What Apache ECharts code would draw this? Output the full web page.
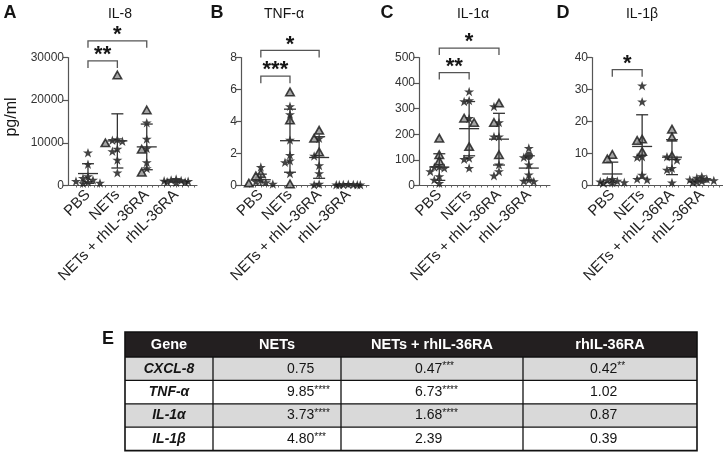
<!DOCTYPE html>
<html><head><meta charset="utf-8">
<script src="https://cdn.jsdelivr.net/npm/echarts@6/dist/echarts.min.js"></script>
<style>html,body{margin:0;padding:0;background:#fff}#c{width:723px;height:471px}</style>
</head><body><div id="c"></div>
<script>
// ---------- DATA ----------
const groups = ['PBS', 'NETs', 'NETs + rhIL-36RA', 'rhIL-36RA'];

// A: IL-8 (pg/ml)
const il8Stars = [[7700,5000,2100,1700,1300,1000,800,600,500],[10600,10400,10800,8600,8000,6000,3000],[14700,10900,8700,5400,4000],[1500,1300,1200,1100,1000,900,800,700]];
const il8Tris  = [[],[25900,10000],[17700,8500,3100],[]];
const il8Mean  = [2800,10450,9050,1100];
const il8Sd    = [2300,6350,5350,300];
const il8Sig   = [{a:0,b:1,y:29200,t:'**'},{a:0,b:2,y:33900,t:'*'}];

// B: TNF-α
const tnfStars = [[1.15,0.35,0.25,0.2,0.1],[4.95,4.45,2.85,1.9,1.55,1.45,0.75],[2.95,1.85,1.25,0.75,0.1,0.05],[0.08,0.07,0.06,0.05,0.05,0.04,0.04]];
const tnfTris  = [[0.75,0.6,0.15],[5.85,4.1,0.1],[3.45,2.95,2.1],[]];
const tnfMean  = [0.36,2.8,1.75,0.05];
const tnfSd    = [0.35,1.97,1.3,0.02];
const tnfSig   = [{a:0,b:1,y:6.83,t:'***'},{a:0,b:2,y:8.44,t:'*'}];

// C: IL-1α
const il1aStars = [[74,72,68,55,35,22,9],[367,332,328,263,107,103,68],[309,246,191,191,81,55,38],[146,110,81,42,22,18,16]];
const il1aTris  = [[185,120,96],[263,246,152],[322,246,120],[]];
const il1aCircs = [[],[],[],[116]];
const il1aMean  = [72,222,181,68];
const il1aSd    = [52,106,101,48];
const il1aSig   = [{a:0,b:1,y:441,t:'**'},{a:0,b:2,y:537,t:'*'}];

// D: IL-1β
const il1bStars = [[2.0,1.6,1.4,1.2,1.0,0.9,0.8],[31.2,26.2,9.0,8.8,3.3,2.0,1.8],[9.0,8.0,5.4,4.9,0.9],[2.8,2.4,2.0,1.8,1.6,1.4,1.2,1.0]];
const il1bTris  = [[9.7,8.3],[14.5,14.1,10.6],[17.6,15.1,9.3],[]];
const il1bMean  = [3.6,12.2,8.85,1.7];
const il1bSd    = [3.7,9.9,5.45,0.6];
const il1bSig   = [{a:0,b:1,y:36.2,t:'*'}];

// Y axis ticks
const yMax      = [30000, 8, 500, 40];
const yInterval = [10000, 2, 100, 10];
const panelTitles  = ['IL-8', 'TNF-α', 'IL-1α', 'IL-1β'];
const panelLetters = ['A', 'B', 'C', 'D'];

// E: qPCR fold change table
const tableHeader = ['Gene', 'NETs', 'NETs + rhIL-36RA', 'rhIL-36RA'];
const genes       = ['CXCL-8', 'TNF-α', 'IL-1α', 'IL-1β'];
const foldNETs    = ['0.75', '9.85', '3.73', '4.80'];
const sigNETs     = ['', '****', '****', '***'];
const foldNETsRA  = ['0.47', '6.73', '1.68', '2.39'];
const sigNETsRA   = ['***', '****', '****', ''];
const foldRA      = ['0.42', '1.02', '0.87', '0.39'];
const sigRA       = ['**', '', '', ''];

// ---------- LAYOUT ----------
const FONT = '"Liberation Sans", Arial, sans-serif';
const panels = [
  {stars: il8Stars, tris: il8Tris, circs: null, mean: il8Mean, sd: il8Sd, sig: il8Sig, left: 68, width: 129, titleX: 120, letterX: 10},
  {stars: tnfStars, tris: tnfTris, circs: null, mean: tnfMean, sd: tnfSd, sig: tnfSig, left: 241, width: 128, titleX: 284, letterX: 217},
  {stars: il1aStars, tris: il1aTris, circs: il1aCircs, mean: il1aMean, sd: il1aSd, sig: il1aSig, left: 419, width: 131, titleX: 473, letterX: 387},
  {stars: il1bStars, tris: il1bTris, circs: null, mean: il1bMean, sd: il1bSd, sig: il1bSig, left: 592, width: 131, titleX: 642, letterX: 563}
];
const GRID_TOP = 57.5, GRID_H = 128;
const XMIN = 0.32, XMAX = 4.71;
const STAR = 'path://M12,0 L14.9,8.6 L24,8.6 L16.6,14 L19.4,22.8 L12,17.4 L4.6,22.8 L7.4,14 L0,8.6 L9.1,8.6 Z';

function swarm(pts, pxPerY, pxPerX) {
  // compact beeswarm: returns x offsets (data units)
  const order = pts.map((p, i) => i).sort((i, j) => pts[j].v - pts[i].v);
  const placed = [];
  const cands = [0, -5, 5, -9, 9, -12, 12];
  const off = new Array(pts.length).fill(0);
  const D = 5;
  order.forEach(i => {
    const py = pts[i].v * pxPerY;
    let chosen = null, best = -1, bestC = 0;
    for (const c of cands) {
      let md = Infinity;
      placed.forEach(q => { md = Math.min(md, Math.hypot(q.x - c, q.y - py)); });
      if (md >= D) { chosen = c; break; }
      if (md > best) { best = md; bestC = c; }
    }
    if (chosen === null) chosen = bestC;
    placed.push({x: chosen, y: py});
    off[i] = chosen / pxPerX;
  });
  return off;
}

const grids = [], xAxes = [], yAxes = [], series = [], graphics = [];
panels.forEach((p, k) => {
  grids.push({left: p.left, top: GRID_TOP, width: p.width, height: GRID_H});
  const pxPerX = p.width / (XMAX - XMIN);
  const pxPerY = GRID_H / yMax[k];
  xAxes.push({
    type: 'value', gridIndex: k, min: XMIN, max: XMAX,
    splitLine: {show: false},
    axisLine: {show: true, onZero: false, lineStyle: {color: '#555', width: 1.2}},
    axisTick: {show: true, length: 2, customValues: [0.6,0.8,1,1.2,1.4,1.6,1.8,2,2.2,2.4,2.6,2.8,3,3.2,3.4,3.6,3.8,4,4.2,4.4,4.6], lineStyle: {color: '#666', width: 1}},
    axisLabel: {
      customValues: [1, 2, 3, 4], rotate: 45, margin: 7,
      fontSize: 15, color: '#222', fontFamily: FONT,
      formatter: v => (Number.isInteger(v) && v >= 1 && v <= 4) ? groups[v - 1] : ''
    }
  });
  yAxes.push({
    type: 'value', gridIndex: k, min: 0, max: yMax[k], interval: yInterval[k],
    splitLine: {show: false},
    axisLine: {show: true, lineStyle: {color: '#555', width: 1.2}},
    axisTick: {show: true, length: 5, lineStyle: {color: '#555', width: 1.2}},
    axisLabel: {fontSize: 12, color: '#333', margin: 4, fontFamily: FONT, formatter: v => String(v)}
  });

  // points
  const items = [];
  for (let g = 0; g < 4; g++) {
    const pts = [];
    p.stars[g].forEach(v => pts.push({v, s: 'star'}));
    p.tris[g].forEach(v => pts.push({v, s: 'tri'}));
    if (p.circs) p.circs[g].forEach(v => pts.push({v, s: 'circ'}));
    const off = swarm(pts, pxPerY, pxPerX);
    pts.forEach((pt, i) => {
      const it = {value: [g + 1 + off[i], pt.v]};
      if (pt.s === 'star') {
        it.symbol = STAR; it.symbolSize = [10, 9.5];
        it.itemStyle = {color: '#151515'};
      } else if (pt.s === 'tri') {
        it.symbol = 'triangle'; it.symbolSize = [8.5, 7.5];
        it.itemStyle = {color: '#8e8e8e', borderColor: '#151515', borderWidth: 1.6};
      } else {
        it.symbol = 'circle'; it.symbolSize = 8.5;
        it.itemStyle = {color: '#151515'};
      }
      items.push(it);
    });
  }
  series.push({type: 'scatter', xAxisIndex: k, yAxisIndex: k, data: items, z: 3, silent: true, animation: false});

  // mean ± SD
  series.push({
    type: 'custom', xAxisIndex: k, yAxisIndex: k, z: 4, silent: true, animation: false, clip: false,
    data: p.mean.map((m, g) => [g + 1, m, p.sd[g]]),
    encode: {x: 0, y: 1},
    renderItem: (params, api) => {
      const x = api.value(0), m = api.value(1), sd = api.value(2);
      const pm = api.coord([x, m]);
      const pt = api.coord([x, m + sd]);
      const pb = api.coord([x, Math.max(0, m - sd)]);
      const st = {stroke: '#333', lineWidth: 1.3, fill: null};
      return {type: 'group', children: [
        {type: 'line', shape: {x1: pm[0], y1: pt[1], x2: pm[0], y2: pb[1]}, style: st},
        {type: 'line', shape: {x1: pm[0] - 6, y1: pt[1], x2: pm[0] + 6, y2: pt[1]}, style: st},
        {type: 'line', shape: {x1: pm[0] - 6, y1: pb[1], x2: pm[0] + 6, y2: pb[1]}, style: st},
        {type: 'line', shape: {x1: pm[0] - 10, y1: pm[1], x2: pm[0] + 10, y2: pm[1]}, style: st}
      ]};
    }
  });

  // significance brackets
  series.push({
    type: 'custom', xAxisIndex: k, yAxisIndex: k, z: 5, silent: true, animation: false, clip: false,
    data: p.sig.map(s => [s.a + 1, s.b + 1, s.y]),
    encode: {x: [0, 1], y: 2},
    renderItem: (params, api) => {
      const s = p.sig[params.dataIndex];
      const p1 = api.coord([s.a + 1, s.y]);
      const p2 = api.coord([s.b + 1, s.y]);
      return {type: 'group', children: [
        {type: 'polyline', shape: {points: [[p1[0], p1[1] + 7], [p1[0], p1[1]], [p2[0], p2[1]], [p2[0], p2[1] + 7]]},
         style: {stroke: '#555', lineWidth: 1.3, fill: null}},
        {type: 'text', x: (p1[0] + p2[0]) / 2, y: p1[1] - 6,
         style: {text: s.t, fill: '#151515', font: 'bold 22px ' + FONT, align: 'center', verticalAlign: 'middle'}}
      ]};
    }
  });

  graphics.push({type: 'text', x: p.titleX, y: 14,
    style: {text: panelTitles[k], fill: '#151515', font: '14px ' + FONT, align: 'center', verticalAlign: 'middle'}});
  graphics.push({type: 'text', x: p.letterX, y: 13,
    style: {text: panelLetters[k], fill: '#151515', font: 'bold 18px ' + FONT, align: 'center', verticalAlign: 'middle'}});
});

graphics.push({type: 'text', x: 12, y: 117, rotation: Math.PI / 2,
  style: {text: 'pg/ml', fill: '#151515', font: '16px ' + FONT, align: 'center', verticalAlign: 'middle'}});

// ---------- TABLE (E) ----------
const colX = [125, 213, 341, 523, 697];
const valIndent = [74, 74, 67];
const T_TOP = 332, HEAD_H = 25, ROW_H = 23.4;
graphics.push({type: 'text', x: 108, y: T_TOP + 7,
  style: {text: 'E', fill: '#151515', font: 'bold 18px ' + FONT, align: 'center', verticalAlign: 'middle'}});
graphics.push({type: 'rect', shape: {x: colX[0], y: T_TOP, width: colX[4] - colX[0], height: HEAD_H}, style: {fill: '#231f20'}});
tableHeader.forEach((h, c) => {
  graphics.push({type: 'text', x: (colX[c] + colX[c + 1]) / 2, y: T_TOP + HEAD_H / 2,
    style: {text: h, fill: '#fff', font: 'bold 14.5px ' + FONT, align: 'center', verticalAlign: 'middle'}});
});
const valCols = [[foldNETs, sigNETs], [foldNETsRA, sigNETsRA], [foldRA, sigRA]];
genes.forEach((g, r) => {
  const y0 = T_TOP + HEAD_H + r * ROW_H;
  graphics.push({type: 'rect', shape: {x: colX[0], y: y0, width: colX[4] - colX[0], height: ROW_H},
    style: {fill: r % 2 === 0 ? '#d9d9d9' : '#ffffff'}});
  graphics.push({type: 'text', x: (colX[0] + colX[1]) / 2, y: y0 + ROW_H / 2,
    style: {text: g, fill: '#151515', font: 'italic bold 14px ' + FONT, align: 'center', verticalAlign: 'middle'}});
  valCols.forEach(([vals, sigs], c) => {
    graphics.push({type: 'text', x: colX[c + 1] + valIndent[c], y: y0 + ROW_H / 2,
      style: {
        text: '{v|' + vals[r] + '}' + (sigs[r] ? '{s|' + sigs[r] + '}' : ''),
        align: 'left', verticalAlign: 'middle',
        rich: {
          v: {fontSize: 14, fontFamily: FONT, fill: '#151515', color: '#151515'},
          s: {fontSize: 10, fontFamily: FONT, fill: '#151515', color: '#151515', verticalAlign: 'top'}
        }
      }});
  });
  graphics.push({type: 'line', shape: {x1: colX[0], y1: y0, x2: colX[4], y2: y0}, style: {stroke: '#111', lineWidth: 1.3}});
});
const tBottom = T_TOP + HEAD_H + genes.length * ROW_H;
for (let c = 1; c < 4; c++) {
  graphics.push({type: 'line', shape: {x1: colX[c], y1: T_TOP + HEAD_H, x2: colX[c], y2: tBottom}, style: {stroke: '#111', lineWidth: 1.3}});
}
graphics.push({type: 'rect', shape: {x: colX[0], y: T_TOP, width: colX[4] - colX[0], height: tBottom - T_TOP},
  style: {fill: null, stroke: '#111', lineWidth: 1.6}});

const chart = echarts.init(document.getElementById('c'), null, {renderer: 'canvas'});
chart.setOption({
  animation: false,
  backgroundColor: '#fff',
  grid: grids, xAxis: xAxes, yAxis: yAxes, series: series,
  graphic: {elements: graphics}
});
</script></body></html>
